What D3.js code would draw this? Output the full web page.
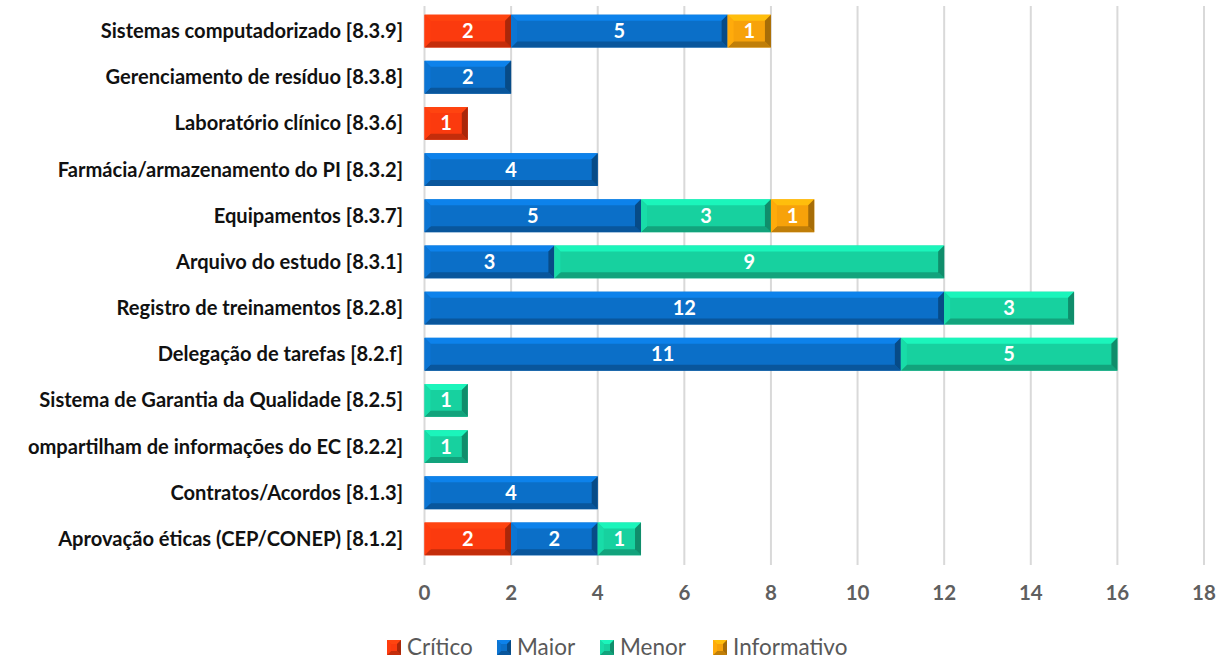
<!DOCTYPE html>
<html>
<head>
<meta charset="utf-8">
<script src="https://cdn.jsdelivr.net/npm/d3@7"></script>
<style>
  body { margin: 0; background: #fff; }
  svg text { font-family: Lato, "Open Sans", sans-serif; }
</style>
</head>
<body>
<div id="chart"></div>
<script>
// Data (top to bottom)
const categories = [
  "Sistemas computadorizado [8.3.9]",
  "Gerenciamento de resíduo [8.3.8]",
  "Laboratório clínico [8.3.6]",
  "Farmácia/armazenamento do PI [8.3.2]",
  "Equipamentos [8.3.7]",
  "Arquivo do estudo [8.3.1]",
  "Registro de treinamentos [8.2.8]",
  "Delegação de tarefas [8.2.f]",
  "Sistema de Garantia da Qualidade [8.2.5]",
  "ompartilham de informações do EC [8.2.2]",
  "Contratos/Acordos [8.1.3]",
  "Aprovação éticas (CEP/CONEP) [8.1.2]"
];
const seriesNames = ["Crítico", "Maior", "Menor", "Informativo"];
const critico     = [2, 0, 1, 0, 0, 0, 0, 0, 0, 0, 0, 2];
const maior       = [5, 2, 0, 4, 5, 3, 12, 11, 0, 0, 4, 2];
const menor       = [0, 0, 0, 0, 3, 9, 3, 5, 1, 1, 0, 1];
const informativo = [1, 0, 0, 0, 1, 0, 0, 0, 0, 0, 0, 0];
const xTicks = [0, 2, 4, 6, 8, 10, 12, 14, 16, 18];

const colors = ["#fb3a0e", "#0b6fc8", "#17d19f", "#f7a20a"];

/************************************
 * Build chart
 ************************************/
const w = 1218, h = 660;
const svg = d3.select("#chart").append("svg")
  .attr("width", w).attr("height", h);

const xScale = d3.scaleLinear().domain([0, 18]).range([424.5, 1204]);
const yScale = d3.scaleBand().domain(categories).range([8, 562]).paddingInner(0.29).paddingOuter(0.145);

// Gridlines
svg.append("g").selectAll("line")
  .data(xTicks).enter().append("line")
  .attr("x1", d => xScale(d)).attr("x2", d => xScale(d))
  .attr("y1", 6).attr("y2", 565)
  .attr("stroke", "#d9d9d9").attr("stroke-width", 2);

// Tick labels
svg.append("g").selectAll("text")
  .data(xTicks).enter().append("text")
  .attr("x", d => xScale(d)).attr("y", 600)
  .attr("text-anchor", "middle")
  .attr("font-size", 20.5).attr("font-weight", 700)
  .attr("fill", "#5f5f5f")
  .text(d => d);

// Category labels
const labels = svg.append("g").selectAll("text")
  .data(categories).enter().append("text")
  .attr("x", 403).attr("y", d => yScale(d) + yScale.bandwidth() / 2 + 7)
  .attr("text-anchor", "end")
  .attr("font-size", 19).attr("font-weight", 700)
  .attr("fill", "#111")
  .text(d => d);

// fit longest label to the reference width
const longest = labels.filter(d => d.startsWith("Aprova")).node();
const fs = 19 * 345 / longest.getComputedTextLength();
labels.attr("font-size", fs);

// Stack data
const rows = categories.map((c, i) => ({
  cat: c, "Crítico": critico[i], "Maior": maior[i], "Menor": menor[i], "Informativo": informativo[i]
}));
const stacked = d3.stack().keys(seriesNames)(rows);

// Bevel segment drawing
const bevel = (g, x0, x1, y0, y1, col, b) => {
  const base = d3.color(col);
  const faces = [
    { pts: [[x0, y0], [x1, y0], [x1 - b, y0 + b], [x0 + b, y0 + b]], c: base.brighter(0.45) },
    { pts: [[x0, y1], [x1, y1], [x1 - b, y1 - b], [x0 + b, y1 - b]], c: base.darker(0.7) },
    { pts: [[x0, y0], [x0 + b, y0 + b], [x0 + b, y1 - b], [x0, y1]], c: base.brighter(0.15) },
    { pts: [[x1, y0], [x1 - b, y0 + b], [x1 - b, y1 - b], [x1, y1]], c: base.darker(1.1) }
  ];
  g.append("rect").attr("x", x0).attr("y", y0)
    .attr("width", x1 - x0).attr("height", y1 - y0).attr("fill", base);
  faces.forEach(f => {
    g.append("polygon").attr("points", f.pts.map(p => p.join(",")).join(" "))
      .attr("fill", f.c);
  });
};

stacked.forEach((layer, si) => {
  const g = svg.append("g");
  layer.forEach(d => {
    if (d[1] - d[0] <= 0) return;
    const x0 = xScale(d[0]), x1 = xScale(d[1]);
    const y0 = yScale(d.data.cat), y1 = y0 + yScale.bandwidth();
    bevel(g, x0, x1, y0, y1, colors[si], 6);
    g.append("text")
      .attr("x", (x0 + x1) / 2).attr("y", (y0 + y1) / 2 + 7)
      .attr("text-anchor", "middle")
      .attr("font-size", 20).attr("font-weight", 700)
      .attr("fill", "#fff")
      .text(d[1] - d[0]);
  });
});

// Legend
const legendX = [387, 497, 600, 713];
const lg = svg.append("g");
seriesNames.forEach((s, i) => {
  const item = lg.append("g");
  bevel(item, legendX[i], legendX[i] + 14, 640, 655, colors[i], 4);
  item.append("text")
    .attr("x", legendX[i] + 20).attr("y", 655)
    .attr("font-size", 22.5).attr("fill", "#595959")
    .text(s);
});
</script>
</body>
</html>
